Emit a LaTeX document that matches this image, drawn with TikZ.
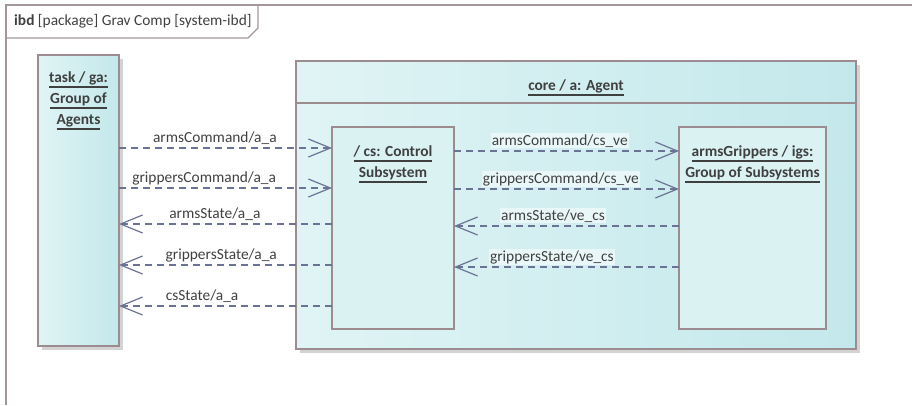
\documentclass[tikz,border=0pt]{standalone}
\usepackage{fontspec}
\setmainfont{Carlito}
\usetikzlibrary{arrows.meta,shadows}

\definecolor{rahmen}{HTML}{A3979B}
\definecolor{kante}{HTML}{9C8B8F}
\definecolor{fuellL}{HTML}{E0F4F5}
\definecolor{fuellR}{HTML}{C3E8EB}
\definecolor{innen}{HTML}{DBF2F3}
\definecolor{flussfarbe}{HTML}{6B7394}
\definecolor{schrift}{HTML}{404040}
\definecolor{grauschatten}{HTML}{D3D3D3}
\definecolor{labelgrund}{HTML}{E9F7F8}

% unterstrichene Zeile fuer Bloecke
\newcommand\uline[1]{\setbox0\hbox{#1}\leavevmode\rlap{\rule[-5.5pt]{\wd0}{1.4pt}}\box0}

\begin{document}
\begin{tikzpicture}[x=1pt, y=-1pt,
        font=\fontsize{15.4}{21}\selectfont, text=schrift,
        >={Straight Barb[length=22pt,width=18pt]}, % offene Pfeilspitzen
        block/.style={draw=kante, line width=1.6pt, inner sep=0pt, outer sep=0pt,
            anchor=north west, left color=fuellL, right color=fuellR},
        teil/.style={draw=kante, line width=1.6pt, inner sep=0pt, outer sep=0pt,
            anchor=north west, fill=innen},
        schatten/.style={drop shadow={shadow xshift=4pt, shadow yshift=-4pt,
            fill=grauschatten, opacity=1}},
        titel/.style={font=\fontsize{15.4}{21}\selectfont\bfseries, align=center,
            inner sep=0pt, anchor=north},
        fluss/.style={draw=flussfarbe, line width=1.2pt, dash pattern=on 7pt off 5pt},
        beschr/.style={anchor=base, inner sep=1pt, yshift=6pt},
        beschrhell/.style={beschr, fill=labelgrund}
        ]
            \useasboundingbox (0,0) rectangle (912,405);

            % Rahmen
            \draw [draw=rahmen, line width=2pt] (6,405) -- (6,5) -- (912,5);
            \draw [draw=rahmen, line width=1.2pt] (6,38) -- (248,38) -- (258,28) -- (258,5);
            \node [anchor=base west, inner sep=0pt] (kopf) at (14,25)
                {\textbf{ibd} [package] Grav Comp [system-ibd]};

            % Bloecke
            \node [block, schatten, minimum width=81pt, minimum height=291pt] (task) at (38,55) {};
            \node [block, schatten, minimum width=560pt, minimum height=288pt] (core) at (296,61) {};
            \coordinate (trenn) at (0,103);
            \draw [draw=kante, line width=1.6pt] (core.west |- trenn) -- (core.east |- trenn);
            \node [teil, minimum width=122pt, minimum height=202pt] (cs) at (332,127) {};
            \node [teil, minimum width=147pt, minimum height=202pt] (igs) at (679,127) {};

            \node [titel] (tasktitel) at ([yshift=-16pt]task.north)
                {\uline{task / ga:}\\ \uline{Group of}\\ \uline{Agents}};
            \node [titel] (coretitel) at ([yshift=-18pt]core.north) {\uline{core / a: Agent}};
            \node [titel] (cstitel) at ([yshift=-18pt]cs.north)
                {\uline{/ cs: Control}\\ \uline{Subsystem}};
            \node [titel] (igstitel) at ([yshift=-18pt]igs.north)
                {\uline{armsGrippers / igs:}\\ \uline{Group of Subsystems}};

            % Flussrichtungen, links
            \coordinate (z1) at (0,148);
            \coordinate (z2) at (0,188);
            \coordinate (z3) at (0,224);
            \coordinate (z4) at (0,265);
            \coordinate (z5) at (0,306);
            \draw [fluss, ->] (task.east |- z1) -- (cs.west |- z1)
                node [beschr, pos=.45] {armsCommand/a\_a};
            \draw [fluss, ->] (task.east |- z2) -- (cs.west |- z2)
                node [beschr, pos=.40] {grippersCommand/a\_a};
            \draw [fluss, ->] (cs.west |- z3) -- (task.east |- z3)
                node [beschr, pos=.55] {armsState/a\_a};
            \draw [fluss, ->] (cs.west |- z4) -- (task.east |- z4)
                node [beschr, pos=.52] {grippersState/a\_a};
            \draw [fluss, ->] (cs.west |- z5) -- (task.east |- z5)
                node [beschr, pos=.61] {csState/a\_a};

            % Flussrichtungen, rechts
            \coordinate (w1) at (0,151);
            \coordinate (w2) at (0,189);
            \coordinate (w3) at (0,226);
            \coordinate (w4) at (0,267);
            \draw [fluss, ->] (cs.east |- w1) -- (igs.west |- w1)
                node [beschrhell, pos=.47] {armsCommand/cs\_ve};
            \draw [fluss, ->] (cs.east |- w2) -- (igs.west |- w2)
                node [beschrhell, pos=.475] {grippersCommand/cs\_ve};
            \draw [fluss, ->] (igs.west |- w3) -- (cs.east |- w3)
                node [beschrhell, pos=.56] {armsState/ve\_cs};
            \draw [fluss, ->] (igs.west |- w4) -- (cs.east |- w4)
                node [beschrhell, pos=.565] {grippersState/ve\_cs};

        \end{tikzpicture}
\end{document}
